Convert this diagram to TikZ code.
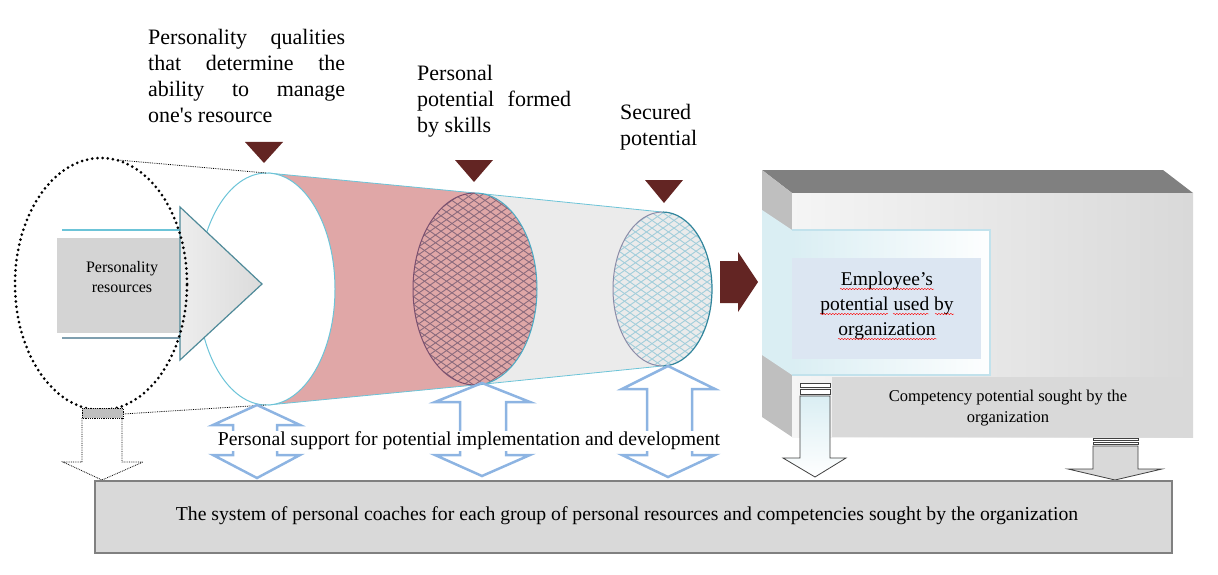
\documentclass[tikz,border=0pt]{standalone}
\usepackage{fontspec}
\setmainfont{Liberation Serif}
\usetikzlibrary{decorations.pathmorphing}
\definecolor{darkred}{HTML}{632523}
\definecolor{pinkfill}{HTML}{E0A7A7}
\definecolor{cyanline}{HTML}{6CC4D8}
\definecolor{blueline}{HTML}{8DB4E2}
\definecolor{boxgray}{HTML}{D9D9D9}
\definecolor{hatchred}{HTML}{8A6A7C}
\definecolor{hatchblue}{HTML}{A2CEDB}
\definecolor{conegray}{HTML}{EBEBEB}
\definecolor{panelblue}{HTML}{DAEEF3}
\definecolor{textblue}{HTML}{DCE6F2}
\definecolor{tealedge}{HTML}{4F8A99}
\definecolor{purpleedge}{HTML}{7A4F6E}
\definecolor{blueedge}{HTML}{4BACC6}
\definecolor{grayedge}{HTML}{8C8CA8}
\definecolor{darkblueedge}{HTML}{31859C}
\definecolor{lowline}{HTML}{7F9FAF}
\definecolor{paneledge}{HTML}{C2E2EC}
\begin{document}
\begin{tikzpicture}[x=1pt,y=-1pt,
  tri/.style={fill=darkred},
  dblarrow/.style={draw=blueline, line width=2.5pt, line join=miter},
  hatchR/.style={draw=hatchred, line width=0.9pt},
  hatchB/.style={draw=hatchblue, line width=0.9pt},
  downarrow/.style={draw=black!75, line width=0.8pt},
  squiggle/.style={draw=red, line width=0.4pt, decorate, decoration={snake, segment length=3pt, amplitude=0.7pt}},
  lbl/.style={inner sep=0pt, align=left, anchor=north west, font=\fontsize{22}{26}\selectfont},
]
\useasboundingbox (0,0) rectangle (1218,575);

% cones
\fill[pinkfill] (268,173) -- (475,193) -- (475,385) -- (268,405) -- cycle;
\fill[conegray] (475,193) -- (662,212) -- (662,366) -- (475,385) -- cycle;
\draw[cyanline, line width=0.8pt] (268,173) -- (475,193) -- (662,212);
\draw[cyanline, line width=0.8pt] (268,405) -- (475,385) -- (662,366);
% circle 1
\draw[cyanline, fill=white, line width=1pt] (266.5,289) ellipse [x radius=68.5pt, y radius=116pt];
% ellipse 2
\fill[pinkfill] (475,289) ellipse [x radius=62pt, y radius=96pt];
\begin{scope}
\clip (475,289) ellipse [x radius=62pt, y radius=96pt];
\foreach \i in {0,...,70}{\draw[hatchR] ({100+\i*11},185) -- ++(290,203); \draw[hatchR] ({100+\i*11},185) -- ++(-290,203);}
\end{scope}
\draw[purpleedge, line width=1pt] (475,193) arc[start angle=90, end angle=270, x radius=62pt, y radius=96pt];
\draw[blueedge, line width=1pt] (475,193) arc[start angle=90, end angle=-90, x radius=62pt, y radius=96pt];
% ellipse 3
\fill[conegray] (662.5,289) ellipse [x radius=49.5pt, y radius=77pt];
\begin{scope}
\clip (662.5,289) ellipse [x radius=49.5pt, y radius=77pt];
\foreach \i in {0,...,65}{\draw[hatchB] ({300+\i*11},205) -- ++(290,203); \draw[hatchB] ({300+\i*11},205) -- ++(-290,203);}
\end{scope}
\draw[grayedge, line width=1pt] (662.5,212) arc[start angle=90, end angle=270, x radius=49.5pt, y radius=77pt];
\draw[darkblueedge, line width=1.2pt] (662.5,212) arc[start angle=90, end angle=-90, x radius=49.5pt, y radius=77pt];

% big gray arrow
\fill[black!17] (57,238) rectangle (188,333);
\draw[cyanline, line width=1.5pt] (62,230) -- (182,230);
\draw[lowline, line width=1.5pt] (62,338) -- (182,338);
\draw[tealedge, line width=1.2pt, left color=black!7, right color=black!14] (180,207) -- (262,284) -- (180,360) -- cycle;
\node[align=center, font=\fontsize{16}{20}\selectfont] (res) at (122,277) {Personality\\resources};

% dotted ellipse and guides
\draw[line width=3pt, dash pattern=on 0pt off 5.2pt, line cap=round] (101,284) ellipse [x radius=86pt, y radius=126pt];
\draw[densely dotted, line width=0.8pt] (118,160) -- (266,173);
\draw[densely dotted, line width=0.8pt] (123,414) -- (266,405);
\draw[densely dotted, line width=0.8pt, fill=black!25] (82,408) rectangle (123,418);
\draw[densely dotted, line width=0.8pt] (82,418) -- (82,462) -- (63,462) -- (102,480) -- (143,462) -- (122,462) -- (122,418);

% triangles
\fill[tri] (245,142) -- (283,142) -- (264,163) -- cycle;
\fill[tri] (455,160) -- (493,160) -- (474,182) -- cycle;
\fill[tri] (645,180) -- (683,180) -- (664,203) -- cycle;

% labels
\node[lbl] (q1) at (148,29) {\makebox[197pt][s]{Personality qualities}\\\makebox[197pt][s]{that determine the}\\\makebox[197pt][s]{ability to manage}\\one\textquotesingle s resource};
\node[lbl] (q2) at (417,65) {\makebox[154pt][l]{Personal}\\\makebox[154pt][s]{potential formed}\\by skills};
\node[lbl] (q3) at (620,104) {Secured\\potential};

% dark red arrow
\fill[darkred] (720,261) -- (738,261) -- (738,252) -- (758,282) -- (738,312) -- (738,303) -- (720,303) -- cycle;

% 3D box
\fill[black!50] (762,170) -- (1163,170) -- (1193,193) -- (792,193) -- cycle;
\fill[black!25] (762,170) -- (792,193) -- (792,437) -- (762,417) -- cycle;
\shade[left color=white!96!black, right color=black!15] (792,193) rectangle (1193,437);
\fill[panelblue] (762,210) -- (792,230) -- (792,375) -- (762,355) -- cycle;
\shade[left color=panelblue, right color=white!96!panelblue] (792,230) rectangle (990,375);
\draw[paneledge, line width=1.5pt] (792,230) -- (990,230) -- (990,375) -- (792,375);
\fill[textblue] (792,258) rectangle (981,359);
\node[align=center, font=\fontsize{19.5}{25}\selectfont] (emp) at (887,306) {Employee’s\\potential used by\\organization};
\draw[squiggle] (840,289) -- (934,289);
\draw[squiggle] (820,314) -- (888,314);
\draw[squiggle] (893,314) -- (929,314);
\draw[squiggle] (935,314) -- (954,314);
\draw[squiggle] (838,339) -- (937,339);
\fill[boxgray] (832,377) rectangle (1187,437);
\node[align=center, font=\fontsize{16.5}{21}\selectfont] (comp) at (1008,408) {Competency potential sought by the\\organization};

% small down arrows
\draw[downarrow, fill=white] (800,383) rectangle (830,387);
\draw[downarrow, fill=white] (800,389) rectangle (830,394);
\draw[downarrow, top color=panelblue, bottom color=white] (800,396) -- (800,458) -- (783,458) -- (815,477) -- (846,458) -- (830,458) -- (830,396) -- cycle;
\draw[downarrow, fill=white] (1093,438) rectangle (1138,440.5);
\draw[downarrow, fill=white] (1093,442) rectangle (1138,444.5);
\draw[downarrow, fill=boxgray] (1093,446) -- (1093,469) -- (1068,469) -- (1115,480) -- (1162,469) -- (1138,469) -- (1138,446) -- cycle;

% bottom box
\node[draw=black!50, line width=2.5pt, fill=boxgray, minimum width=1077pt, minimum height=72pt, inner sep=0pt] (sys) at (633.5,517) {};
\node[font=\fontsize{19.7}{23}\selectfont, inner sep=0pt] (systext) at (627,516) {The system of personal coaches for each group of personal resources and competencies sought by the organization};

% blue double arrows
\draw[dblarrow] (257,405) -- (300,425) -- (277,425) -- (277,455) -- (300,455) -- (257,478) -- (213,455) -- (233,455) -- (233,425) -- (213,425) -- cycle;
\draw[dblarrow] (482,383) -- (530,402) -- (506,402) -- (506,455) -- (530,455) -- (482,476) -- (435,455) -- (460,455) -- (460,402) -- (435,402) -- cycle;
\draw[dblarrow] (668,366) -- (715,389) -- (692,389) -- (692,455) -- (715,455) -- (668,477) -- (622,455) -- (647,455) -- (647,389) -- (622,389) -- cycle;
\node[fill=white, inner sep=1pt, font=\fontsize{19.7}{23}\selectfont] (sup) at (469,441) {Personal support for potential implementation and development};
\end{tikzpicture}
\end{document}
